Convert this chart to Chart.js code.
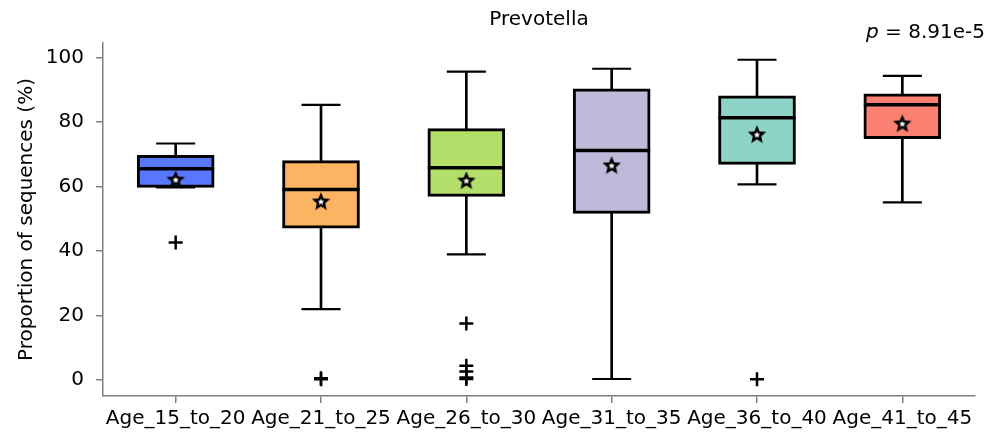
<!DOCTYPE html>
<html><head><meta charset="utf-8">
<script src="https://cdn.jsdelivr.net/npm/chart.js@4/dist/chart.umd.min.js"></script>
<style>html,body{margin:0;padding:0;background:#fff}</style>
</head><body>
<canvas id="c" width="989" height="435"></canvas>
<script>
const titleText = 'Prevotella';
const pLabel = 'p';
const pValueText = ' = 8.91e-5';
const yTitle = 'Proportion of sequences (%)';
const categories = ['Age_15_to_20', 'Age_21_to_25', 'Age_26_to_30', 'Age_31_to_35', 'Age_36_to_40', 'Age_41_to_45'];
const whiskerLow  = [59.8, 22.0, 39.0, 0.3, 60.7, 55.1];
const q1          = [59.8, 47.1, 57.0, 51.7, 66.9, 74.9];
const medians     = [65.6, 59.1, 65.9, 71.2, 81.4, 85.4];
const q3          = [69.7, 68.1, 78.0, 90.4, 88.2, 88.8];
const whiskerHigh = [73.4, 85.4, 95.7, 96.6, 99.4, 94.4];
const means       = [62.2, 55.4, 61.9, 66.6, 76.2, 79.6];
const outliers    = [[42.7], [0.2, 0.5], [17.5, 4.4, 2.6, 0.8, 0.3], [], [0.2], []];
const boxColors   = ['#5877ff', '#fdb462', '#b3de69', '#bebada', '#8dd3c7', '#fb8072'];
const yTicks      = [0, 20, 40, 60, 80, 100];

const FONT = '"DejaVu Sans", sans-serif';
const FS = 20;

function makeStar() {
  const c = document.createElement('canvas');
  c.width = 20; c.height = 20;
  const g = c.getContext('2d');
  g.beginPath();
  for (let i = 0; i < 10; i++) {
    const r = i % 2 ? 3.0 : 6.6;
    const a = -Math.PI / 2 + i * Math.PI / 5;
    const x = 10 + r * Math.cos(a), y = 10.5 + r * Math.sin(a);
    if (i) g.lineTo(x, y); else g.moveTo(x, y);
  }
  g.closePath();
  g.fillStyle = '#fff'; g.fill();
  g.lineWidth = 2.5; g.strokeStyle = '#000'; g.lineJoin = 'miter'; g.stroke();
  return c;
}
const starImg = makeStar();

const outlierPoints = [];
outliers.forEach((arr, i) => arr.forEach(v => outlierPoints.push({x: categories[i], y: v})));

const textPlugin = {
  id: 'texts',
  afterDraw(chart) {
    const {ctx, chartArea} = chart;
    ctx.save();
    ctx.fillStyle = '#000';
    ctx.textBaseline = 'middle';
    ctx.font = FS + 'px ' + FONT;
    ctx.textAlign = 'center';
    ctx.fillText(titleText, (chartArea.left + chartArea.right) / 2, 20);
    ctx.textAlign = 'left';
    const wRest = ctx.measureText(pValueText).width;
    ctx.font = 'italic ' + FS + 'px ' + FONT;
    const wp = ctx.measureText(pLabel).width;
    const x0 = 985 - wRest - wp;
    ctx.fillText(pLabel, x0, 33);
    ctx.font = FS + 'px ' + FONT;
    ctx.fillText(pValueText, x0 + wp, 33);
    ctx.restore();
  }
};

new Chart(document.getElementById('c'), {
  type: 'bar',
  data: {
    labels: categories,
    datasets: [
      { label: 'whiskerLow', data: categories.map((_, i) => [whiskerLow[i], q1[i]]), backgroundColor: '#000', barThickness: 2, grouped: false, order: 6 },
      { label: 'whiskerHigh', data: categories.map((_, i) => [q3[i], whiskerHigh[i]]), backgroundColor: '#000', barThickness: 2, grouped: false, order: 6 },
      { label: 'box', data: categories.map((_, i) => [q1[i], q3[i]]), backgroundColor: boxColors, borderColor: '#000', borderWidth: 3, borderSkipped: false, barThickness: 77, grouped: false, order: 4 },
      { type: 'line', label: 'capLow', data: whiskerLow, showLine: false, pointStyle: 'line', pointRadius: 19.5, pointBorderWidth: 2.2, pointBorderColor: '#000', order: 5 },
      { type: 'line', label: 'capHigh', data: whiskerHigh, showLine: false, pointStyle: 'line', pointRadius: 19.5, pointBorderWidth: 2.2, pointBorderColor: '#000', order: 5 },
      { type: 'line', label: 'median', data: medians, showLine: false, pointStyle: 'line', pointRadius: 38.5, pointBorderWidth: 3.5, pointBorderColor: '#000', order: 2 },
      { type: 'line', label: 'mean', data: means, showLine: false, pointStyle: starImg, pointRadius: 10, order: 1 },
      { type: 'line', label: 'outliers', data: outlierPoints, showLine: false, pointStyle: 'cross', pointRadius: 7, pointBorderWidth: 2.5, pointBorderColor: '#000', order: 1 }
    ]
  },
  options: {
    responsive: false,
    animation: false,
    events: [],
    layout: { autoPadding: false, padding: { top: 43, right: 14, left: 0, bottom: 0 } },
    plugins: { legend: { display: false }, tooltip: { enabled: false }, title: { display: false } },
    scales: {
      x: {
        type: 'category',
        offset: true,
        afterFit: s => { s.height = 39; s.paddingLeft = 0; s.paddingRight = 0; },
        ticks: { font: { family: FONT, size: FS }, color: '#000', padding: 4, maxRotation: 0, autoSkip: false },
        grid: { offset: false, drawOnChartArea: false, drawTicks: true, tickLength: 7, color: '#808080', lineWidth: 1.5 },
        border: { display: true, color: '#808080', width: 1.5 }
      },
      y: {
        min: -4.98, max: 104.6,
        afterBuildTicks: s => { s.ticks = yTicks.map(v => ({ value: v })); },
        afterFit: s => { s.width = 103; s.paddingTop = 0; s.paddingBottom = 0; },
        ticks: { font: { family: FONT, size: FS }, color: '#000', padding: 12 },
        grid: { drawOnChartArea: false, drawTicks: true, tickLength: 7, color: '#808080', lineWidth: 1.5 },
        border: { display: true, color: '#808080', width: 1.5 },
        title: { display: true, text: yTitle, font: { family: FONT, size: FS }, color: '#000', padding: { top: 15, bottom: 0 } }
      }
    }
  },
  plugins: [textPlugin]
});
</script>
</body></html>
